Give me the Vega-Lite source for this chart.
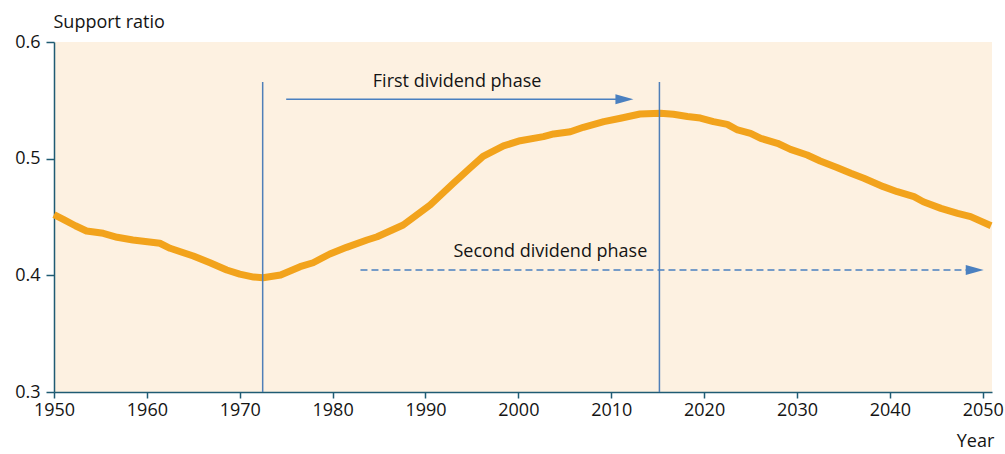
{
  "$schema": "https://vega.github.io/schema/vega-lite/v6.json",
  "width": 938,
  "height": 350,
  "autosize": {"type": "none"},
  "padding": {"left": 54, "top": 42, "right": 13, "bottom": 62},
  "background": "white",
  "config": {
    "view": {"fill": "#fdf1e1", "stroke": null},
    "font": "Open Sans",
    "axis": {
      "grid": false,
      "labelFontSize": 18,
      "labelColor": "#141414",
      "titleFontSize": 18,
      "titleFontWeight": "normal",
      "titleColor": "#141414",
      "domainColor": "#1f5b73",
      "tickColor": "#1f5b73",
      "domainWidth": 1.5,
      "tickWidth": 1.5
    }
  },
  "encoding": {
    "x": {
      "field": "year",
      "type": "quantitative",
      "scale": {"domain": [1950, 2051], "nice": false, "zero": false},
      "axis": {
        "values": [1950, 1960, 1970, 1980, 1990, 2000, 2010, 2020, 2030, 2040, 2050],
        "format": "d",
        "tickSize": 6,
        "labelPadding": 3,
        "labelFlush": false,
        "labelOverlap": false,
        "title": "Year",
        "titleX": 921,
        "titleY": 49,
        "titleAlign": "center",
        "titleBaseline": "middle"
      }
    },
    "y": {
      "field": "value",
      "type": "quantitative",
      "scale": {"domain": [0.3, 0.6], "nice": false, "zero": false},
      "axis": {
        "values": [0.3, 0.4, 0.5, 0.6],
        "format": ".1f",
        "tickSize": 8,
        "labelPadding": 6,
        "title": "Support ratio",
        "titleAngle": 0,
        "titleX": -1,
        "titleY": -20,
        "titleAlign": "left",
        "titleBaseline": "middle"
      }
    }
  },
  "layer": [
    {
      "data": {"values": [
        {"year": 1950, "value": 0.452},
        {"year": 1951, "value": 0.448},
        {"year": 1952.3, "value": 0.4425},
        {"year": 1953.5, "value": 0.438},
        {"year": 1955.3, "value": 0.436},
        {"year": 1956.8, "value": 0.4326},
        {"year": 1958.5, "value": 0.4303},
        {"year": 1961.4, "value": 0.4275},
        {"year": 1962.5, "value": 0.4232},
        {"year": 1965, "value": 0.4166},
        {"year": 1966.8, "value": 0.4108},
        {"year": 1968.6, "value": 0.4046},
        {"year": 1970, "value": 0.4011},
        {"year": 1971.5, "value": 0.3985},
        {"year": 1972.5, "value": 0.398},
        {"year": 1974.4, "value": 0.4003},
        {"year": 1976.5, "value": 0.4074},
        {"year": 1977.9, "value": 0.4108},
        {"year": 1979.7, "value": 0.4183},
        {"year": 1981.5, "value": 0.424},
        {"year": 1983.7, "value": 0.4303},
        {"year": 1984.8, "value": 0.4331},
        {"year": 1987.6, "value": 0.4431},
        {"year": 1990.5, "value": 0.4603},
        {"year": 1993, "value": 0.4789},
        {"year": 1994.8, "value": 0.492},
        {"year": 1996.2, "value": 0.502},
        {"year": 1998.4, "value": 0.5109},
        {"year": 2000.2, "value": 0.5154},
        {"year": 2002.7, "value": 0.5189},
        {"year": 2003.8, "value": 0.5212},
        {"year": 2005.6, "value": 0.5231},
        {"year": 2007, "value": 0.5269},
        {"year": 2009.2, "value": 0.5317},
        {"year": 2011, "value": 0.5346},
        {"year": 2013.1, "value": 0.5383},
        {"year": 2015.3, "value": 0.5389},
        {"year": 2016.7, "value": 0.538},
        {"year": 2018.2, "value": 0.5362},
        {"year": 2019.6, "value": 0.5348},
        {"year": 2021, "value": 0.5317},
        {"year": 2022.5, "value": 0.5294},
        {"year": 2023.6, "value": 0.5246},
        {"year": 2025, "value": 0.5217},
        {"year": 2026.1, "value": 0.5174},
        {"year": 2027.9, "value": 0.5132},
        {"year": 2029.3, "value": 0.508},
        {"year": 2031.1, "value": 0.5031},
        {"year": 2032.5, "value": 0.498},
        {"year": 2034.3, "value": 0.4925},
        {"year": 2035.8, "value": 0.4875},
        {"year": 2037.2, "value": 0.4832},
        {"year": 2039.3, "value": 0.476},
        {"year": 2040.8, "value": 0.4717},
        {"year": 2042.6, "value": 0.4674},
        {"year": 2043.6, "value": 0.4631},
        {"year": 2045.5, "value": 0.4574},
        {"year": 2047.3, "value": 0.4532},
        {"year": 2048.7, "value": 0.4503},
        {"year": 2050.9, "value": 0.4425}
      ]},
      "mark": {"type": "line", "color": "#f2a31c", "strokeWidth": 7, "strokeCap": "butt", "strokeJoin": "round"}
    },
    {
      "data": {"values": [
        {"year": 1972.47, "value": 0.3, "value2": 0.5657},
        {"year": 2015.19, "value": 0.3, "value2": 0.5657}
      ]},
      "mark": {"type": "rule", "color": "#4f7fb8", "strokeWidth": 1.5},
      "encoding": {"y2": {"field": "value2"}}
    },
    {
      "data": {"values": [
        {"year": 1975, "year2": 2011.4, "value": 0.5509}
      ]},
      "mark": {"type": "rule", "color": "#4a80c0", "strokeWidth": 1.5},
      "encoding": {"x2": {"field": "year2"}}
    },
    {
      "data": {"values": [
        {"year": 1983, "year2": 2049, "value": 0.4046}
      ]},
      "mark": {"type": "rule", "color": "#4a80c0", "strokeWidth": 1.5, "strokeDash": [7, 4]},
      "encoding": {"x2": {"field": "year2"}}
    },
    {
      "data": {"values": [
        {"year": 2011.42, "value": 0.5509},
        {"year": 2049.14, "value": 0.4046}
      ]},
      "mark": {"type": "point", "shape": "M1,0L-1,-0.55L-1,0.55Z", "size": 324, "filled": true, "color": "#4a80c0", "opacity": 1, "strokeWidth": 0}
    },
    {
      "data": {"values": [
        {"year": 1993.4, "value": 0.566, "label": "First dividend phase"},
        {"year": 2003.45, "value": 0.42, "label": "Second dividend phase"}
      ]},
      "mark": {"type": "text", "fontSize": 18, "align": "center", "baseline": "middle", "color": "#141414"},
      "encoding": {"text": {"field": "label"}}
    }
  ]
}
